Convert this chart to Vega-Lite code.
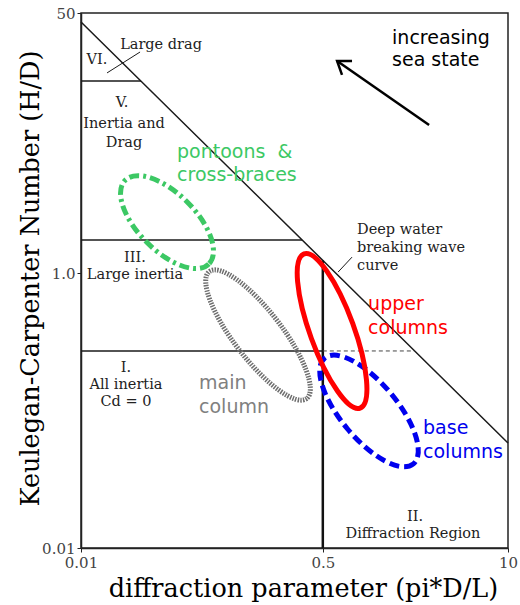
{
  "$schema": "https://vega.github.io/schema/vega-lite/v6.json",
  "width": 427,
  "height": 535,
  "autosize": {"type": "none"},
  "padding": {"left": 81, "top": 13, "right": 12, "bottom": 57},
  "background": "white",
  "config": {"view": {"stroke": "#222", "strokeWidth": 1.5}},
  "datasets": {
    "lines": [
      {"kind": "thin", "seg": "diag", "o": 0, "x": 0.01, "y": 43.7},
      {"kind": "thin", "seg": "diag", "o": 1, "x": 0.615, "y": 1.0},
      {"kind": "thin", "seg": "diag", "o": 2, "x": 10, "y": 0.058},
      {"kind": "thin", "seg": "h6", "o": 0, "x": 0.01, "y": 18},
      {"kind": "thin", "seg": "h6", "o": 1, "x": 0.0264, "y": 18},
      {"kind": "thin", "seg": "h3", "o": 0, "x": 0.01, "y": 1.64},
      {"kind": "thin", "seg": "h3", "o": 1, "x": 0.357, "y": 1.64},
      {"kind": "thin", "seg": "h1", "o": 0, "x": 0.01, "y": 0.271},
      {"kind": "thin", "seg": "h1", "o": 1, "x": 0.5, "y": 0.271},
      {"kind": "ptr", "seg": "p1", "o": 0, "x": 0.01524, "y": 20.3},
      {"kind": "ptr", "seg": "p1", "o": 1, "x": 0.026, "y": 27.8},
      {"kind": "ptr", "seg": "p2", "o": 0, "x": 0.64, "y": 1.014},
      {"kind": "ptr", "seg": "p2", "o": 1, "x": 0.802, "y": 1.27},
      {"kind": "thick", "seg": "v", "o": 0, "x": 0.5, "y": 1.205},
      {"kind": "thick", "seg": "v", "o": 1, "x": 0.5, "y": 0.01},
      {"kind": "arrow", "seg": "shaft", "o": 0, "x": 2.79, "y": 9.27},
      {"kind": "arrow", "seg": "shaft", "o": 1, "x": 0.63, "y": 24.3},
      {"kind": "arrow", "seg": "head", "o": 0, "x": 0.682, "y": 19.7},
      {"kind": "arrow", "seg": "head", "o": 1, "x": 0.63, "y": 24.3},
      {"kind": "arrow", "seg": "head", "o": 2, "x": 0.802, "y": 24.3},
      {"kind": "dash", "seg": "h1d", "o": 0, "x": 0.5, "y": 0.271},
      {"kind": "dash", "seg": "h1d", "o": 1, "x": 2.2, "y": 0.271}
    ],
    "ellipses": [
      {"name": "main column", "x": 0.1753, "y": 0.354},
      {"name": "pontoons", "x": 0.0402, "y": 2.15},
      {"name": "base columns", "x": 1.056, "y": 0.0992},
      {"name": "upper columns", "x": 0.5806, "y": 0.3787}
    ],
    "serif": [
      {"t": "Large drag", "x": 0.0365, "y": 30.9},
      {"t": "VI.", "x": 0.01296, "y": 24.7},
      {"t": "V.", "x": 0.0194, "y": 12.9},
      {"t": "Inertia and", "x": 0.02006, "y": 9.41},
      {"t": "Drag", "x": 0.02006, "y": 7.07},
      {"t": "III.", "x": 0.02396, "y": 1.253},
      {"t": "Large inertia", "x": 0.02396, "y": 0.967},
      {"t": "I.", "x": 0.0207, "y": 0.2038},
      {"t": "All inertia", "x": 0.0207, "y": 0.1533},
      {"t": "Cd = 0", "x": 0.0207, "y": 0.1153},
      {"t": "II.", "x": 2.22, "y": 0.0168},
      {"t": "Diffraction Region", "x": 2.15, "y": 0.01264}
    ],
    "serifLeft": [
      {"t": "Deep water", "x": 0.87, "y": 1.91},
      {"t": "breaking wave", "x": 0.87, "y": 1.455},
      {"t": "curve", "x": 0.87, "y": 1.11}
    ],
    "sans": [
      {"g": "pontoons", "t": "pontoons\u00a0\u00a0&", "x": 0.0473, "y": 6.17},
      {"g": "pontoons", "t": "cross-braces", "x": 0.0473, "y": 4.37},
      {"g": "sea", "t": "increasing", "x": 1.533, "y": 34.3},
      {"g": "sea", "t": "sea state", "x": 1.533, "y": 24.7},
      {"g": "upper", "t": "upper", "x": 1.04, "y": 0.595},
      {"g": "upper", "t": "columns", "x": 1.04, "y": 0.398},
      {"g": "base", "t": "base", "x": 2.53, "y": 0.0746},
      {"g": "base", "t": "columns", "x": 2.53, "y": 0.0499},
      {"g": "main", "t": "main", "x": 0.0675, "y": 0.1585},
      {"g": "main", "t": "column", "x": 0.0675, "y": 0.106}
    ]
  },
  "encoding": {
    "x": {
      "field": "x",
      "type": "quantitative",
      "scale": {"type": "log", "domain": [0.01, 10], "nice": false},
      "axis": {
        "values": [0.01, 0.5, 10],
        "labelExpr": "datum.value == 10 ? '10' : datum.value == 0.5 ? '0.5' : '0.01'",
        "title": "diffraction parameter (pi*D/L)",
        "titleFont": "DejaVu Serif",
        "titleFontSize": 25.5,
        "titleFontWeight": "normal",
        "titleColor": "#000",
        "titleX": 222,
        "titleY": 40,
        "titleBaseline": "middle",
        "titleAlign": "center",
        "labelFont": "DejaVu Serif",
        "labelFontSize": 15,
        "labelColor": "#444",
        "labelPadding": 3,
        "labelFlush": false,
        "tickSize": 4,
        "tickColor": "#222",
        "domainColor": "#222",
        "domainWidth": 1.5,
        "grid": false
      }
    },
    "y": {
      "field": "y",
      "type": "quantitative",
      "scale": {"type": "log", "domain": [0.01, 1, 50], "range": [535, 260, 0], "nice": false},
      "axis": {
        "values": [0.01, 1, 50],
        "labelExpr": "datum.value == 1 ? '1.0' : datum.value == 50 ? '50' : '0.01'",
        "title": "Keulegan-Carpenter Number (H/D)",
        "titleFont": "DejaVu Serif",
        "titleFontSize": 25.5,
        "titleFontWeight": "normal",
        "titleColor": "#000",
        "titleX": -51,
        "titleY": 265,
        "titleBaseline": "middle",
        "titleAlign": "center",
        "labelFont": "DejaVu Serif",
        "labelFontSize": 15,
        "labelColor": "#444",
        "labelPadding": 2,
        "labelFlush": false,
        "tickSize": 4,
        "tickColor": "#222",
        "domainColor": "#222",
        "domainWidth": 1.5,
        "grid": false
      }
    }
  },
  "layer": [
    {
      "data": {"name": "lines"},
      "transform": [{"filter": "datum.kind == 'thin'"}],
      "mark": {"type": "line", "color": "#1a1a1a", "strokeWidth": 1.5},
      "encoding": {"detail": {"field": "seg"}, "order": {"field": "o"}}
    },
    {
      "data": {"name": "lines"},
      "transform": [{"filter": "datum.kind == 'ptr'"}],
      "mark": {"type": "line", "color": "#1a1a1a", "strokeWidth": 1},
      "encoding": {"detail": {"field": "seg"}, "order": {"field": "o"}}
    },
    {
      "data": {"name": "lines"},
      "transform": [{"filter": "datum.kind == 'thick'"}],
      "mark": {"type": "line", "color": "#111", "strokeWidth": 2.5},
      "encoding": {"detail": {"field": "seg"}, "order": {"field": "o"}}
    },
    {
      "data": {"name": "lines"},
      "transform": [{"filter": "datum.kind == 'dash'"}],
      "mark": {"type": "line", "color": "#444", "strokeWidth": 1, "strokeDash": [4, 3]},
      "encoding": {"detail": {"field": "seg"}, "order": {"field": "o"}}
    },
    {
      "data": {"name": "lines"},
      "transform": [{"filter": "datum.kind == 'arrow'"}],
      "mark": {"type": "line", "color": "#000", "strokeWidth": 2.5, "strokeJoin": "miter"},
      "encoding": {"detail": {"field": "seg"}, "order": {"field": "o"}}
    },
    {
      "data": {"name": "ellipses"},
      "transform": [{"filter": "datum.name == 'main column'"}],
      "mark": {
        "type": "point",
        "shape": "M 1 0 C 1 0.1657 0.5523 0.3 0 0.3 C -0.5523 0.3 -1 0.1657 -1 0 C -1 -0.1657 -0.5523 -0.3 0 -0.3 C 0.5523 -0.3 1 -0.1657 1 0 Z",
        "size": 25600,
        "angle": 52.5,
        "filled": false,
        "opacity": 1,
        "stroke": "#6e6e6e",
        "strokeWidth": 5,
        "strokeDash": [1.5, 1.2]
      }
    },
    {
      "data": {"name": "ellipses"},
      "transform": [{"filter": "datum.name == 'pontoons'"}],
      "mark": {
        "type": "point",
        "shape": "M 1 0 C 1 0.2668 0.5523 0.483 0 0.483 C -0.5523 0.483 -1 0.2668 -1 0 C -1 -0.2668 -0.5523 -0.483 0 -0.483 C 0.5523 -0.483 1 -0.2668 1 0 Z",
        "size": 14000,
        "angle": 45,
        "filled": false,
        "opacity": 1,
        "stroke": "#3cc864",
        "strokeWidth": 5,
        "strokeDash": [10, 4, 3, 4]
      }
    },
    {
      "data": {"name": "ellipses"},
      "transform": [{"filter": "datum.name == 'base columns'"}],
      "mark": {
        "type": "point",
        "shape": "M 1 0 C 1 0.2242 0.5523 0.406 0 0.406 C -0.5523 0.406 -1 0.2242 -1 0 C -1 -0.2242 -0.5523 -0.406 0 -0.406 C 0.5523 -0.406 1 -0.2242 1 0 Z",
        "size": 19044,
        "angle": 50,
        "filled": false,
        "opacity": 1,
        "stroke": "#0000ee",
        "strokeWidth": 5,
        "strokeDash": [10, 5]
      }
    },
    {
      "data": {"name": "ellipses"},
      "transform": [{"filter": "datum.name == 'upper columns'"}],
      "mark": {
        "type": "point",
        "shape": "M 1 0 C 1 0.148 0.5523 0.268 0 0.268 C -0.5523 0.268 -1 0.148 -1 0 C -1 -0.148 -0.5523 -0.268 0 -0.268 C 0.5523 -0.268 1 -0.148 1 0 Z",
        "size": 26896,
        "angle": 70,
        "filled": false,
        "opacity": 1,
        "stroke": "#ff0000",
        "strokeWidth": 5
      }
    },
    {
      "data": {"name": "serif"},
      "mark": {"type": "text", "font": "DejaVu Serif", "fontSize": 14.5, "color": "#222", "align": "center", "baseline": "middle"},
      "encoding": {"text": {"field": "t"}}
    },
    {
      "data": {"name": "serifLeft"},
      "mark": {"type": "text", "font": "DejaVu Serif", "fontSize": 14.5, "color": "#222", "align": "left", "baseline": "middle"},
      "encoding": {"text": {"field": "t"}}
    },
    {
      "data": {"name": "sans"},
      "mark": {"type": "text", "font": "DejaVu Sans", "fontSize": 19, "align": "left", "baseline": "middle"},
      "encoding": {
        "text": {"field": "t"},
        "color": {
          "field": "g",
          "type": "nominal",
          "scale": {"domain": ["pontoons", "sea", "upper", "base", "main"], "range": ["#3cc864", "#000000", "#ff0000", "#0000ee", "#808080"]},
          "legend": null
        }
      }
    }
  ]
}
